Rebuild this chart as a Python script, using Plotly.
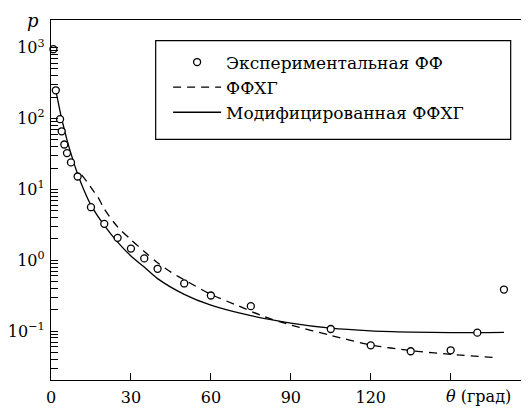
import plotly.graph_objects as go

# Experimental phase function (circles)
theta_exp = [0.9, 1.8, 3.4, 4, 5, 6, 7.5, 10, 15, 20, 25, 30, 35, 40, 50, 60, 75, 105, 120, 135, 150, 160, 170]
p_exp = [950, 250, 98, 66, 43, 32.5, 24, 15.2, 5.6, 3.26, 2.07, 1.46, 1.06, 0.757, 0.47, 0.318, 0.225,
         0.107, 0.063, 0.052, 0.0536, 0.095, 0.386]

# ФФХГ (dashed)
theta_hg = [11.5, 13.5, 15.5, 17.5, 20, 25, 30, 35, 40, 45, 50, 60, 70, 80, 90, 105, 120, 135, 150, 168]
p_hg = [16, 12.8, 10, 7.9, 5.3, 2.95, 1.95, 1.33, 0.92, 0.68, 0.53, 0.33, 0.23, 0.16, 0.122, 0.087,
        0.064, 0.053, 0.047, 0.042]

# Модифицированная ФФХГ (solid)
theta_mod = [1.8, 3, 4, 5, 6, 7.5, 10, 12.5, 15, 20, 25, 30, 35, 40, 50, 60, 75, 90, 105, 120, 135, 150, 170]
p_mod = [250, 150, 100, 70, 50, 32, 16.5, 9.5, 6.0, 3.1, 1.8, 1.15, 0.8, 0.55, 0.33, 0.232, 0.165, 0.13,
         0.11, 0.101, 0.097, 0.095, 0.096]

names = ["Экспериментальная ФФ", "ФФХГ", "Модифицированная ФФХГ"]

x_tickvals = [0, 30, 60, 90, 120, 150]
x_ticktext = ["0", "30", "60", "90", "120", ""]
y_decades = [0.1, 1, 10, 100, 1000]
y_decade_text = ["10<sup>−1</sup>", "10<sup>0</sup>", "10<sup>1</sup>", "10<sup>2</sup>", "10<sup>3</sup>"]

FONT = "DejaVu Serif"

# minor log ticks (2..9 x decade) plus decades
y_tickvals, y_ticktext = [], []
for d in [0.01] + y_decades[:-1]:
    for m in range(2, 10):
        y_tickvals.append(m * d)
        y_ticktext.append(" ")
for d, t in zip(y_decades, y_decade_text):
    y_tickvals.append(d)
    y_ticktext.append(t)

fig = go.Figure()
fig.add_trace(go.Scatter(x=theta_hg, y=p_hg, mode="lines", name=names[1],
                         line=dict(color="black", width=1.3, dash="8px,6px", shape="spline", smoothing=0.8),
                         legendrank=2))
fig.add_trace(go.Scatter(x=theta_mod, y=p_mod, mode="lines", name=names[2],
                         line=dict(color="black", width=1.3, shape="spline", smoothing=0.8),
                         legendrank=3))
fig.add_trace(go.Scatter(x=theta_exp, y=p_exp, mode="markers", name=names[0], cliponaxis=False,
                         marker=dict(symbol="circle", size=7, color="white",
                                     line=dict(color="black", width=1.3)),
                         legendrank=1))

# The page body has an 8px default margin; margins compensate so the
# plot area lands at x 51..529, y 20..380 in the 529x408 window.
fig.update_layout(
    width=529, height=408,
    margin=dict(l=43, r=8, t=12, b=36, autoexpand=False),
    paper_bgcolor="white", plot_bgcolor="white",
    font=dict(family=FONT, size=16, color="black"),
    showlegend=True,
    legend=dict(x=0.245, y=0.932, xanchor="left", yanchor="top",
                bgcolor="rgba(0,0,0,0)", borderwidth=0,
                font=dict(family=FONT, size=17), itemwidth=48, tracegroupgap=0),
    xaxis=dict(range=[0, 179.4], showgrid=False, zeroline=False, automargin=False,
               showline=True, linecolor="black", linewidth=1.3, mirror=True,
               ticks="inside", ticklen=7, tickwidth=1.2, tickcolor="black",
               tickvals=x_tickvals, ticktext=x_ticktext, ticklabelstandoff=3),
    yaxis=dict(type="log", range=[-1.69, 3.39], showgrid=False, zeroline=False, automargin=False,
               showline=True, linecolor="black", linewidth=1.3,
               ticks="inside", ticklen=7, tickwidth=1.2, tickcolor="black",
               tickvals=y_tickvals, ticktext=y_ticktext, ticklabelstandoff=2),
    shapes=[dict(type="rect", xref="paper", yref="paper",
                 x0=0.219, x1=0.9617, y0=0.6686, y1=0.9425,
                 line=dict(color="black", width=1.2), fillcolor="rgba(0,0,0,0)")],
    annotations=[
        dict(text="<i>p</i>", xref="paper", yref="paper", x=-0.038, y=1.0,
             xanchor="center", yanchor="middle", showarrow=False, font=dict(size=18)),
        dict(text="<i>θ</i> (град)", xref="x", yref="paper", x=150, y=0,
             xanchor="left", yanchor="top", xshift=-7, yshift=-5, showarrow=False,
             font=dict(size=16)),
    ],
)

fig.write_html("out.html")
